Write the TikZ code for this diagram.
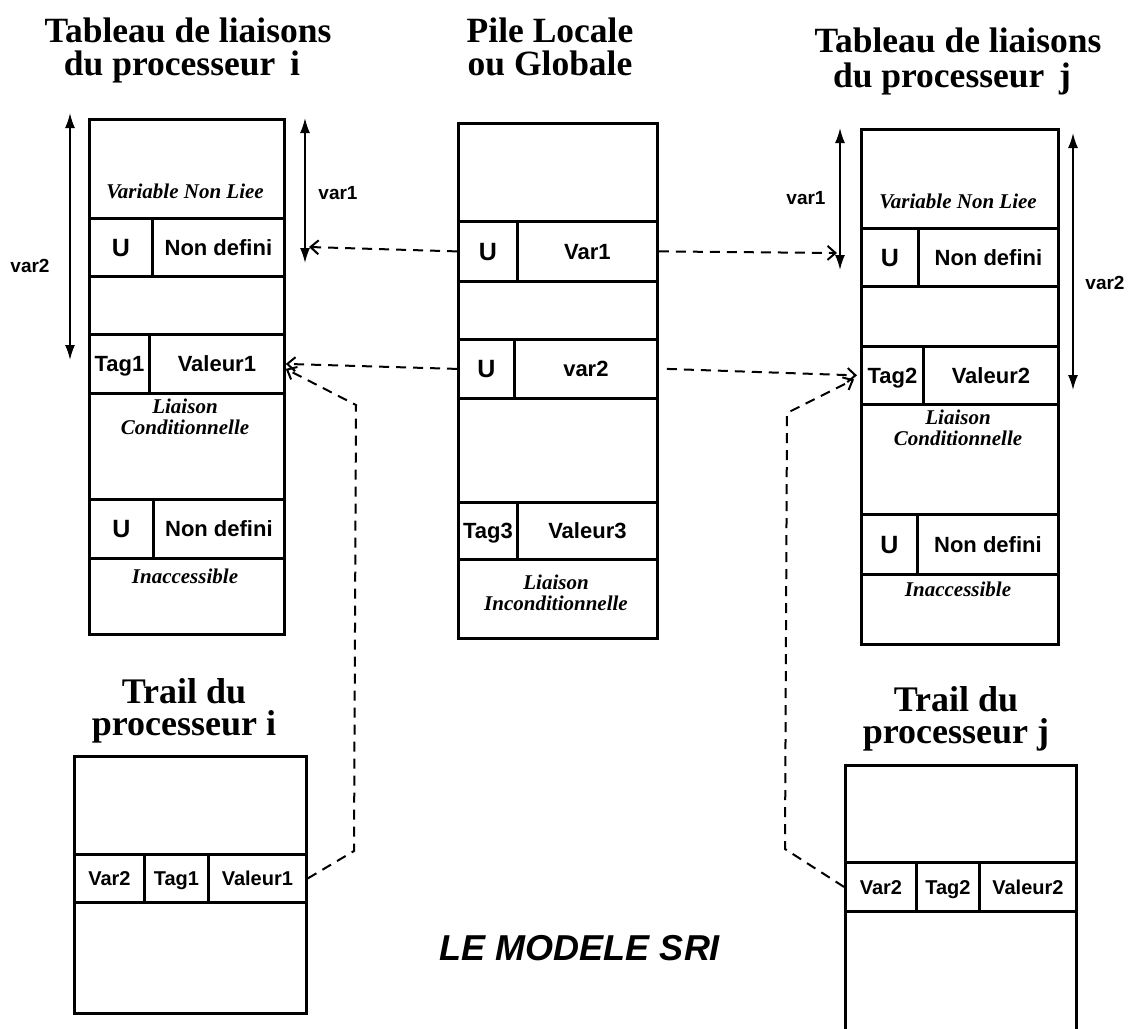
\documentclass[tikz,border=0pt]{standalone}
\usepackage{fontspec}
\setmainfont{Liberation Serif}
\setsansfont{Liberation Sans}
\usetikzlibrary{arrows.meta}

% type sizes
\newcommand\sriCell{\sffamily\bfseries\fontsize{22}{24}\selectfont}
\newcommand\sriBigU{\sffamily\bfseries\fontsize{25}{27}\selectfont}
\newcommand\sriTrail{\sffamily\bfseries\fontsize{20}{22}\selectfont}
\newcommand\sriNote{\rmfamily\bfseries\itshape\fontsize{21}{23}\selectfont}
\newcommand\sriHead{\rmfamily\bfseries\fontsize{35.5}{33}\selectfont}
\newcommand\sriTrailHead{\rmfamily\bfseries\fontsize{36}{32}\selectfont}
\newcommand\sriTitle{\sffamily\bfseries\itshape\fontsize{36}{40}\selectfont}

\begin{document}
\begin{tikzpicture}[x=1pt,y=-1pt,
  cell/.style={draw, line width=2.8pt, inner sep=0pt, anchor=north west,
    font=\sriCell, text height=16pt, text depth=0pt},
  ucell/.style={cell, font=\sriBigU, text height=18pt},
  tcell/.style={cell, font=\sriTrail, text height=14.5pt},
  note/.style={anchor=base, inner sep=0pt, font=\sriNote},
  head/.style={anchor=base, inner sep=0pt, font=\sriHead},
  trailhead/.style={anchor=base, inner sep=0pt, align=center, font=\sriTrailHead},
  varlabel/.style={inner sep=0pt, font=\sffamily\bfseries\fontsize{19}{21}\selectfont},
  span/.style={line width=1.8pt, {Latex[length=15pt,width=10pt]}-{Latex[length=15pt,width=10pt]}},
  link/.style={line width=2pt, dash pattern=on 10pt off 7pt, -{Straight Barb[length=8pt,width=14pt]}}
]
\clip (0,0) rectangle (1132,1028);
\fill[white] (0,0) rectangle (1132,1028);

% ---------- headings ----------
\node[head] (hLi1) at (188,42) {Tableau de liaisons};
\node[head] (hLi2) at (182,75) {du processeur\, i};
\node[head] (hC1) at (550,42) {Pile Locale};
\node[head] (hC2) at (550,75) {ou Globale};
\node[head] (hR1) at (958,52) {Tableau de liaisons};
\node[head] (hR2) at (952,87) {du processeur\, j};

% ---------- binding table of processor i ----------
\node[cell, minimum width=195pt, minimum height=99pt] (L0) at (88,118) {};
\node[ucell, minimum width=63pt, minimum height=58pt] (Lu) at (88,217) {U};
\node[cell, minimum width=132pt, minimum height=58pt] (Lnd) at (151,217) {Non defini};
\node[cell, minimum width=195pt, minimum height=58pt] (L2) at (88,275) {};
\node[cell, minimum width=60pt, minimum height=59pt] (Ltag) at (88,333) {Tag1};
\node[cell, minimum width=135pt, minimum height=59pt] (Lval) at (148,333) {Valeur1};
\node[cell, minimum width=195pt, minimum height=106pt] (L4) at (88,392) {};
\node[ucell, minimum width=64pt, minimum height=59pt] (Lu2) at (88,498) {U};
\node[cell, minimum width=131pt, minimum height=59pt] (Lnd2) at (152,498) {Non defini};
\node[cell, minimum width=195pt, minimum height=76pt] (L6) at (88,557) {};
\node[note] (nL0) at (185,198) {Variable Non Liee};
\node[note] (nL4a) at (185,413) {Liaison};
\node[note] (nL4b) at (185,434) {Conditionnelle};
\node[note] (nL6) at (185,583) {Inaccessible};

% ---------- local / global stack ----------
\node[cell, minimum width=199pt, minimum height=98pt] (C0) at (457,122) {};
\node[ucell, minimum width=59pt, minimum height=60pt] (Cu) at (457,220) {U};
\node[cell, minimum width=140pt, minimum height=60pt] (Cv1) at (516,220) {Var1};
\node[cell, minimum width=199pt, minimum height=58pt] (C2) at (457,280) {};
\node[ucell, minimum width=56pt, minimum height=59pt] (Cu2) at (457,338) {U};
\node[cell, minimum width=143pt, minimum height=59pt] (Cv2) at (513,338) {var2};
\node[cell, minimum width=199pt, minimum height=104pt] (C4) at (457,397) {};
\node[cell, minimum width=59pt, minimum height=57pt] (Ctag) at (457,501) {Tag3};
\node[cell, minimum width=140pt, minimum height=57pt] (Cval) at (516,501) {Valeur3};
\node[cell, minimum width=199pt, minimum height=79pt] (C6) at (457,558) {};
\node[note] (nC6a) at (556,589) {Liaison};
\node[note] (nC6b) at (556,610) {Inconditionnelle};

% ---------- binding table of processor j ----------
\node[cell, minimum width=197pt, minimum height=99pt] (R0) at (860,128) {};
\node[ucell, minimum width=57pt, minimum height=58pt] (Ru) at (860,227) {U};
\node[cell, minimum width=140pt, minimum height=58pt] (Rnd) at (917,227) {Non defini};
\node[cell, minimum width=197pt, minimum height=60pt] (R2) at (860,285) {};
\node[cell, minimum width=62pt, minimum height=58pt] (Rtag) at (860,345) {Tag2};
\node[cell, minimum width=135pt, minimum height=58pt] (Rval) at (922,345) {Valeur2};
\node[cell, minimum width=197pt, minimum height=110pt] (R4) at (860,403) {};
\node[ucell, minimum width=56pt, minimum height=60pt] (Ru2) at (860,513) {U};
\node[cell, minimum width=141pt, minimum height=60pt] (Rnd2) at (916,513) {Non defini};
\node[cell, minimum width=197pt, minimum height=70pt] (R6) at (860,573) {};
\node[note] (nR0) at (958,208) {Variable Non Liee};
\node[note] (nR4a) at (958,424) {Liaison};
\node[note] (nR4b) at (958,445) {Conditionnelle};
\node[note] (nR6) at (958,596) {Inaccessible};

% ---------- trail of processor i ----------
\node[trailhead] (hTi) at (184,735) {Trail du\\processeur i};
\node[cell, minimum width=232pt, minimum height=98pt] (Ti0) at (73,755) {};
\node[tcell, minimum width=70pt, minimum height=48pt] (Tiv) at (73,853) {Var2};
\node[tcell, minimum width=64pt, minimum height=48pt] (Tit) at (143,853) {Tag1};
\node[tcell, minimum width=98pt, minimum height=48pt] (Tival) at (207,853) {Valeur1};
\node[cell, minimum width=232pt, minimum height=111pt] (Ti2) at (73,901) {};

% ---------- trail of processor j ----------
\node[trailhead] (hTj) at (956,743) {Trail du\\processeur j};
\node[cell, minimum width=231pt, minimum height=97pt] (Tj0) at (844,764) {};
\node[tcell, minimum width=71pt, minimum height=49pt] (Tjv) at (844,861) {Var2};
\node[tcell, minimum width=63pt, minimum height=49pt] (Tjt) at (915,861) {Tag2};
\node[tcell, minimum width=97pt, minimum height=49pt] (Tjval) at (978,861) {Valeur2};
\node[cell, minimum width=231pt, minimum height=140pt] (Tj2) at (844,910) {};

% ---------- extents of var1 / var2 ----------
\coordinate (v2Lt) at (70,113);   \coordinate (v2Lb) at (70,360);
\coordinate (v1Lt) at (305,118);  \coordinate (v1Lb) at (305,263);
\coordinate (v1Rt) at (840,128);  \coordinate (v1Rb) at (840,270);
\coordinate (v2Rt) at (1073,133); \coordinate (v2Rb) at (1073,390);
\draw[span] (v2Lt) -- (v2Lb);
\draw[span] (v1Lt) -- (v1Lb);
\draw[span] (v1Rt) -- (v1Rb);
\draw[span] (v2Rt) -- (v2Rb);
\node[varlabel] (lv2L) at (30,266) {var2};
\node[varlabel] (lv1L) at (338,193) {var1};
\node[varlabel] (lv1R) at (806,198) {var1};
\node[varlabel] (lv2R) at (1105,283) {var2};

% ---------- references ----------
\coordinate (a1) at (309,247);
\coordinate (a2) at (837,253);
\coordinate (k1) at (354,851);
\coordinate (k2) at (356,405);
\coordinate (k3) at (785,849);
\coordinate (k4) at (787,413);
\draw[link] (Cu.west) -- (a1);
\draw[link] (Cv1.east) -- (a2);
\draw[link] (Cu2.west) -- (Lval.east);
\draw[link] ([xshift=8pt]Cv2.east) -- ([xshift=-3pt]Rtag.west);
\draw[link] (Tival.east) -- (k1) -- (k2) -- ([yshift=-5pt]Lval.east);
\draw[link] (Tjv.west) -- (k3) -- (k4) -- ([xshift=-6pt,yshift=-4pt]Rtag.west);

% ---------- caption ----------
\node[anchor=base, inner sep=0pt, font=\sriTitle] (cap) at (580,960) {LE MODELE SRI};
\end{tikzpicture}
\end{document}
